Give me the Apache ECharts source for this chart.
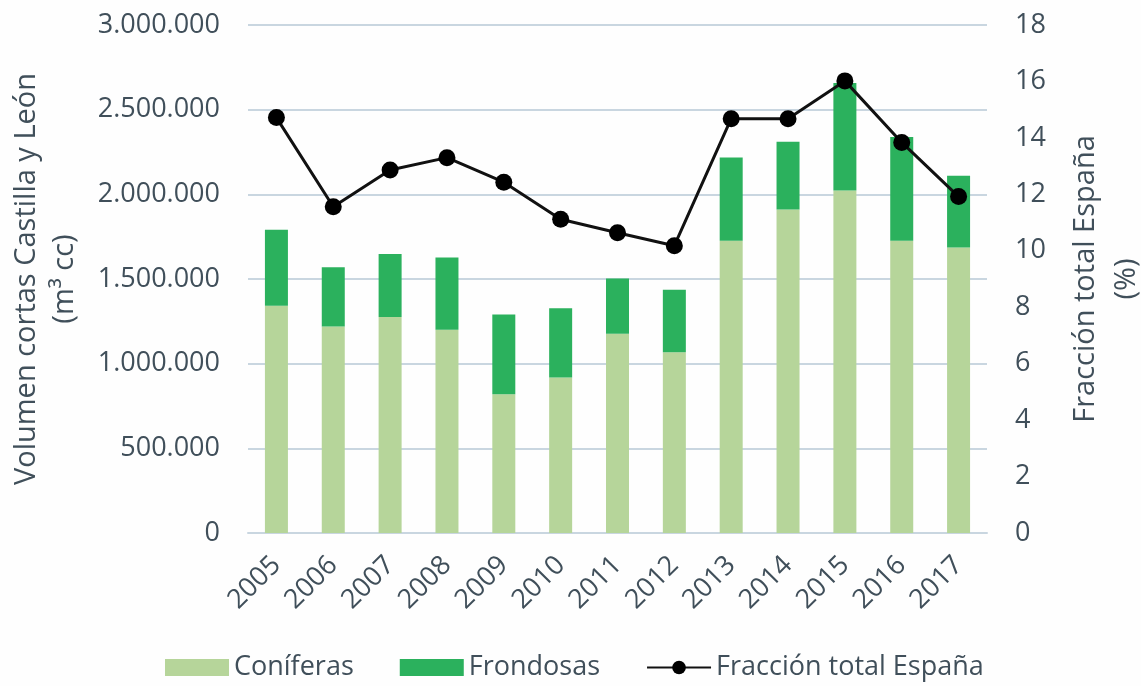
<!DOCTYPE html>
<html>
<head>
<meta charset="utf-8">
<script src="https://cdn.jsdelivr.net/npm/echarts@6/dist/echarts.min.js"></script>
<style>
  html, body { margin: 0; padding: 0; background: #fefefe; }
  #chart { width: 1141px; height: 686px; }
</style>
</head>
<body>
<div id="chart"></div>
<script>
var years = ["2005", "2006", "2007", "2008", "2009", "2010", "2011", "2012", "2013", "2014", "2015", "2016", "2017"];
var coniferas = [1342000, 1219000, 1275000, 1200000, 820000, 918000, 1176000, 1068000, 1726000, 1911000, 2023000, 1726000, 1686000];
var frondosas = [449000, 351000, 372000, 427000, 470000, 410000, 327000, 368000, 492000, 400000, 635000, 613000, 424000];
var fraccion = [14.72, 11.56, 12.86, 13.3, 12.43, 11.12, 10.64, 10.18, 14.68, 14.68, 16.02, 13.84, 11.92];

var textColor = "#404f5a";
var font = "'Open Sans', sans-serif";

function miles(v) {
  return String(v).replace(/\B(?=(\d{3})+(?!\d))/g, ".");
}

var chart = echarts.init(document.getElementById("chart"));

var option = {
  backgroundColor: "#fefefe",
  animation: false,
  textStyle: { fontFamily: font, color: textColor },
  grid: { left: 248, right: 154, top: 25, bottom: 153, outerBoundsMode: "none", containLabel: false },
  legend: {
    bottom: 0,
    left: 160,
    itemWidth: 64,
    itemHeight: 17,
    itemGap: 46,
    textStyle: { fontFamily: font, fontSize: 27, color: textColor },
    data: [
      { name: "Coníferas", icon: "rect" },
      { name: "Frondosas", icon: "rect" },
      { name: "Fracción total España" }
    ]
  },
  xAxis: {
    type: "category",
    data: years,
    axisLine: { show: true, lineStyle: { color: "#c9d6e0", width: 2 } },
    axisTick: { show: false },
    axisLabel: {
      rotate: 45,
      margin: 28,
      fontSize: 27,
      color: textColor
    }
  },
  yAxis: [
    {
      type: "value",
      min: 0,
      max: 3000000,
      interval: 500000,
      name: "Volumen cortas Castilla y León\n(m³ cc)",
      nameLocation: "middle",
      nameRotate: 90,
      nameGap: 164,
      nameTextStyle: { fontSize: 29, color: textColor, lineHeight: 38 },
      axisLine: { show: false },
      axisTick: { show: false },
      axisLabel: {
        margin: 28,
        fontSize: 27,
        color: textColor,
        formatter: function (v) { return miles(v); }
      },
      splitLine: { lineStyle: { color: "#c9d6e0", width: 2 } }
    },
    {
      type: "value",
      min: 0,
      max: 18,
      interval: 2,
      position: "right",
      name: "Fracción total España\n(%)",
      nameLocation: "middle",
      nameRotate: 90,
      nameGap: 78,
      nameTextStyle: { fontSize: 29, color: textColor, lineHeight: 41 },
      axisLine: { show: false },
      axisTick: { show: false },
      axisLabel: { margin: 28, fontSize: 27, color: textColor },
      splitLine: { show: false }
    }
  ],
  series: [
    {
      name: "Coníferas",
      type: "bar",
      stack: "vol",
      barWidth: 23,
      itemStyle: { color: "#b6d59a" },
      data: coniferas
    },
    {
      name: "Frondosas",
      type: "bar",
      stack: "vol",
      barWidth: 23,
      itemStyle: { color: "#2bb15d" },
      data: frondosas
    },
    {
      name: "Fracción total España",
      type: "line",
      yAxisIndex: 1,
      symbol: "circle",
      symbolSize: 17,
      lineStyle: { color: "#111111", width: 3 },
      itemStyle: { color: "#000000" },
      data: fraccion
    }
  ]
};

chart.setOption(option);
</script>
</body>
</html>
